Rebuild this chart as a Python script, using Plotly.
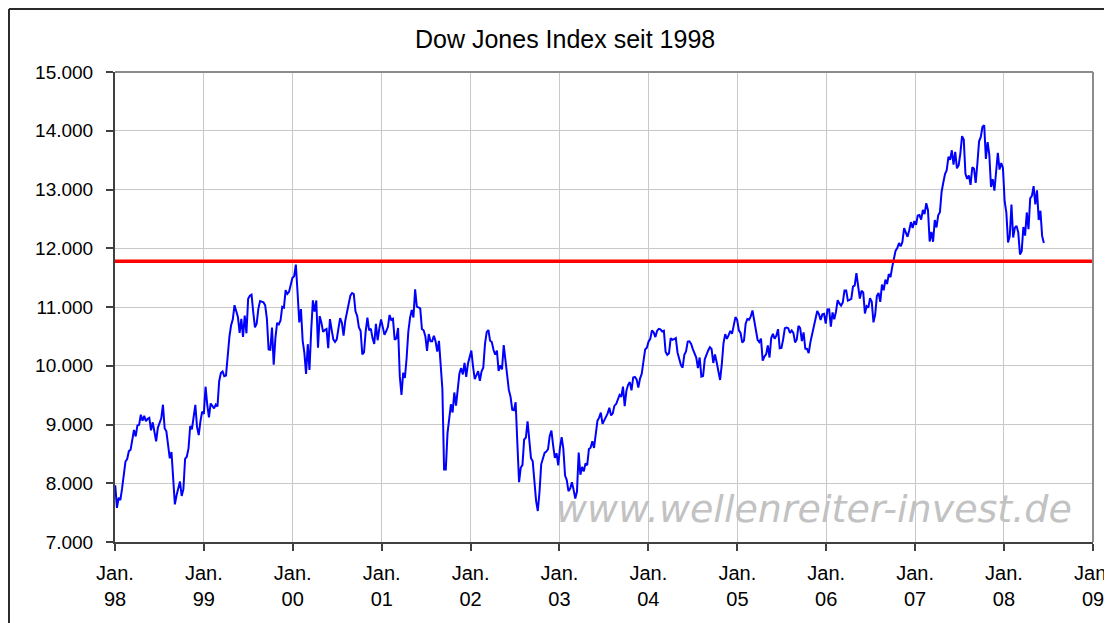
import pandas as pd
import plotly.graph_objects as go

# Weekly closes of the Dow Jones Industrial Average
v1998 = [7965, 7580, 7753, 7712, 7907, 8190, 8370, 8413, 8546, 8569, 8719, 8906, 8797,
         8983, 8994, 9167, 9064, 9147, 9055, 9096, 9114, 8900, 9037, 8834, 8712, 8944,
         9025, 9106, 9337, 8937, 8883, 8599, 8425, 8533, 8051, 7640, 7795, 7895, 8028,
         7784, 7900, 8416, 8452, 8592, 8975, 8919, 9159, 9333, 8959, 8821, 9057, 9217, 9181]
v1999 = [9643, 9340, 9120, 9358, 9304, 9274, 9340, 9306, 9736, 9876, 9903, 9822, 9832,
         10173, 10493, 10689, 10789, 11031, 10913, 10829, 10560, 10800, 10490, 10855, 10552,
         11139, 11193, 11209, 10911, 10655, 10715, 10973, 11100, 11090, 11078, 11029, 10803,
         10279, 10273, 10649, 10019, 10470, 10729, 10704, 10770, 11003, 10988, 11286, 11224,
         11257, 11405, 11497]
v2000 = [11522, 11723, 11251, 10739, 10963, 10425, 10220, 9862, 10367, 9929, 10595, 11112,
         10922, 11111, 10306, 10844, 10734, 10577, 10609, 10627, 10299, 10794, 10614, 10449,
         10405, 10448, 10635, 10812, 10733, 10511, 10767, 10908, 11046, 11193, 11238, 11220,
         10927, 10847, 10651, 10596, 10192, 10226, 10590, 10817, 10603, 10630, 10470, 10373,
         10713, 10434, 10636, 10787]
v2001 = [10662, 10525, 10587, 10659, 10864, 10781, 10799, 10441, 10466, 10644, 9823, 9504,
         9879, 9791, 10127, 10579, 10810, 10951, 10821, 11301, 11006, 10991, 10977, 10623,
         10604, 10502, 10252, 10540, 10416, 10416, 10512, 10416, 10240, 10423, 9949, 9605,
         8236, 8236, 8848, 9120, 9344, 9205, 9545, 9323, 9608, 9867, 9959, 9852, 10049,
         9811, 10036, 10136]
v2002 = [10259, 9987, 9771, 9840, 9907, 9745, 9904, 9968, 10368, 10572, 10608, 10427,
         10404, 10271, 10190, 10257, 9910, 10006, 9939, 10353, 10105, 9925, 9589, 9475,
         9253, 9243, 9380, 8685, 8019, 8264, 8313, 8745, 8778, 9053, 8664, 8427, 8379,
         7986, 7701, 7528, 7850, 8322, 8444, 8518, 8538, 8579, 8805, 8896, 8645, 8433,
         8511, 8303]
v2003 = [8602, 8785, 8586, 8131, 8054, 7865, 7908, 8018, 7891, 7740, 7859, 8522, 8145,
         8277, 8203, 8338, 8307, 8583, 8604, 8713, 8601, 8850, 9063, 9117, 9201, 9011,
         9070, 9119, 9189, 9285, 9153, 9191, 9321, 9349, 9416, 9503, 9471, 9645, 9313,
         9573, 9675, 9721, 9582, 9801, 9809, 9768, 9629, 9782, 9862, 10042, 10278, 10305]
v2004 = [10409, 10458, 10600, 10568, 10488, 10593, 10628, 10620, 10584, 10596, 10240, 10186,
         10212, 10470, 10442, 10452, 10472, 10226, 10118, 10012, 9967, 10188, 10242, 10410,
         10416, 10371, 10282, 10213, 10140, 9962, 10140, 9815, 9825, 10110, 10195, 10260,
         10314, 10284, 10047, 10193, 10055, 9933, 9758, 10027, 10387, 10539, 10456, 10522,
         10592, 10543, 10661, 10827, 10783]
v2005 = [10604, 10558, 10393, 10427, 10716, 10796, 10785, 10841, 10940, 10774, 10629, 10442,
         10404, 10461, 10087, 10157, 10193, 10345, 10140, 10471, 10542, 10460, 10512, 10623,
         10297, 10303, 10449, 10640, 10651, 10640, 10558, 10600, 10559, 10397, 10447, 10678,
         10641, 10419, 10568, 10292, 10287, 10215, 10402, 10530, 10686, 10766, 10931, 10877,
         10778, 10875, 10883, 10718]
v2006 = [10959, 10960, 10667, 10907, 10793, 10919, 11116, 11062, 11022, 11076, 11280, 11280,
         11109, 11121, 11137, 11347, 11367, 11578, 11380, 11144, 11278, 11247, 10891, 11015,
         10989, 11150, 11091, 10739, 10868, 11185, 11240, 11088, 11381, 11284, 11464, 11392,
         11560, 11508, 11679, 11850, 11960, 12002, 12090, 12031, 12108, 12342, 12280, 12194,
         12307, 12445, 12343, 12463]
v2007 = [12398, 12556, 12565, 12487, 12653, 12580, 12767, 12647, 12114, 12276, 12110, 12481,
         12354, 12560, 12612, 12962, 13120, 13264, 13327, 13556, 13507, 13668, 13424, 13639,
         13360, 13409, 13612, 13907, 13851, 13265, 13182, 13240, 13079, 13379, 13358, 13113,
         13442, 13821, 13896, 14066, 14093, 13522, 13807, 13595, 13042, 13177, 12980, 13372,
         13625, 13340, 13450, 13366]
v2008 = [12800, 12606, 12099, 12207, 12743, 12183, 12348, 12381, 12266, 11894, 11951, 12361,
         12216, 12609, 12325, 12849, 12892, 13058, 12745, 12986, 12480, 12638, 12210, 12090]

values = v1998 + v1999 + v2000 + v2001 + v2002 + v2003 + v2004 + v2005 + v2006 + v2007 + v2008
dates = pd.date_range("1998-01-02", periods=len(values), freq="W-FRI")

RED_LEVEL = 11780
YEARS = list(range(1998, 2010))
tick_dates = [f"{y}-01-01" for y in YEARS]
tick_text = [f"Jan.<br>{y % 100:02d}" for y in YEARS]

TITLE = "Dow Jones Index seit 1998"
WATERMARK = "www.wellenreiter-invest.de"

FONT = "Liberation Sans, Arial, sans-serif"

fig = go.Figure()
fig.add_trace(go.Scatter(x=dates, y=values, mode="lines",
                         line=dict(color="#0000ff", width=2), showlegend=False))

shapes = [
    # red horizontal resistance line
    dict(type="line", xref="paper", x0=0, x1=1, yref="y", y0=RED_LEVEL, y1=RED_LEVEL,
         line=dict(color="#ff0000", width=3.5), layer="above"),
    # plot-area border (top and right)
    dict(type="line", xref="paper", yref="paper", x0=0, x1=1, y0=1, y1=1,
         line=dict(color="#8c8c8c", width=2)),
    dict(type="line", xref="paper", yref="paper", x0=1, x1=1, y0=0, y1=1,
         line=dict(color="#8c8c8c", width=2)),
    # outer chart frame (left and top)
    dict(type="line", xref="paper", yref="paper", x0=-0.1084, x1=-0.1084, y0=-0.2, y1=1.134,
         line=dict(color="#2a2a2a", width=2)),
    dict(type="line", xref="paper", yref="paper", x0=-0.1084, x1=1.05, y0=1.134, y1=1.134,
         line=dict(color="#2a2a2a", width=2)),
]

fig.update_layout(
    width=1112, height=615,
    margin=dict(l=107, r=27, t=64, b=81),
    paper_bgcolor="white", plot_bgcolor="white",
    separators=",.",
    font=dict(family=FONT, size=19, color="black"),
    shapes=shapes,
    annotations=[
        dict(text=TITLE, xref="paper", yref="paper", x=0.4606, y=1.070,
             xanchor="center", yanchor="middle", showarrow=False,
             font=dict(family=FONT, size=25, color="black")),
        dict(text=WATERMARK, xref="paper", yref="paper", x=0.715, y=0.07,
             xanchor="center", yanchor="middle", showarrow=False,
             font=dict(family="DejaVu Sans", size=38, color="#c2c2c2", style="italic")),
    ],
    xaxis=dict(type="date", range=["1998-01-01", "2009-01-01"], automargin=False,
               tickvals=tick_dates, ticktext=tick_text, ticklabeloverflow="allow",
               showgrid=True, gridcolor="#c8c8c8", gridwidth=1,
               showline=True, linecolor="#404040", linewidth=2,
               ticks="outside", ticklen=7, tickcolor="#404040", tickwidth=1.5,
               ticklabelstandoff=5,
               tickfont=dict(family=FONT, size=20, color="black"), zeroline=False),
    yaxis=dict(range=[7000, 15000], dtick=1000, tickformat=",d", automargin=False,
               showgrid=True, gridcolor="#c8c8c8", gridwidth=1,
               showline=True, linecolor="#404040", linewidth=2,
               ticks="outside", ticklen=7, tickcolor="#404040", tickwidth=1.5,
               ticklabelstandoff=9,
               tickfont=dict(family=FONT, size=19, color="black"), zeroline=False),
)

fig.write_html("out.html")
